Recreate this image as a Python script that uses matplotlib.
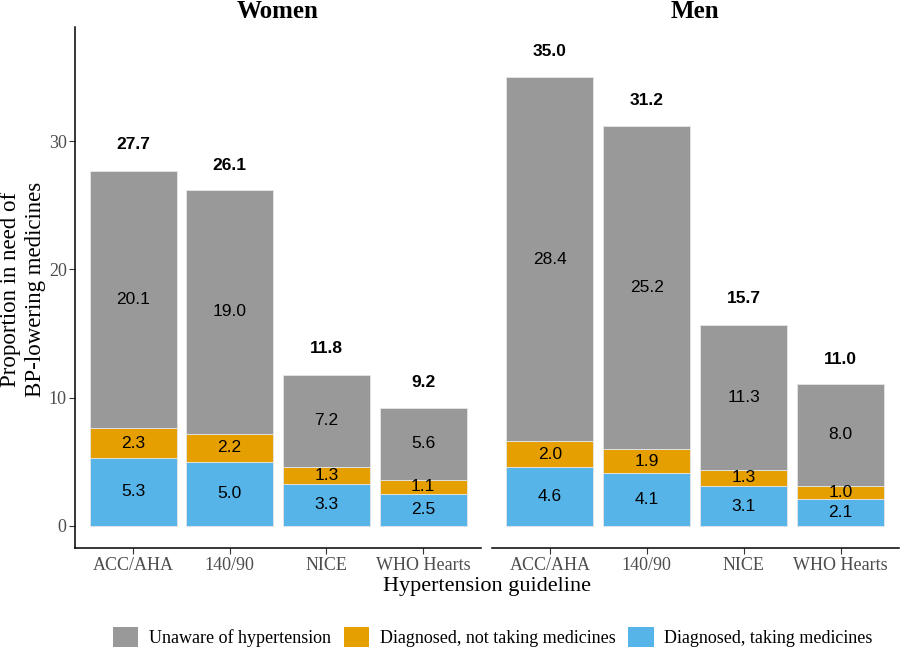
import matplotlib
matplotlib.use('Agg')
import matplotlib.pyplot as plt
from matplotlib.patches import Patch
import numpy as np

# ---- 数据 ----
guidelines = ['ACC/AHA', '140/90', 'NICE', 'WHO Hearts']
panels = ['Women', 'Men']

women_taking = [5.3, 5.0, 3.3, 2.5]
women_not_taking = [2.3, 2.2, 1.3, 1.1]
women_unaware = [20.1, 19.0, 7.2, 5.6]
women_total = [27.7, 26.1, 11.8, 9.2]

men_taking = [4.6, 4.1, 3.1, 2.1]
men_not_taking = [2.0, 1.9, 1.3, 1.0]
men_unaware = [28.4, 25.2, 11.3, 8.0]
men_total = [35.0, 31.2, 15.7, 11.0]

legend_labels = ['Unaware of hypertension',
                 'Diagnosed, not taking medicines',
                 'Diagnosed, taking medicines']
colors = {'unaware': '#999999', 'not': '#E69F00', 'taking': '#56B4E9'}

serif = 'Liberation Serif'
sans = 'Liberation Sans'

fig = plt.figure(figsize=(9, 6.5), dpi=100)
# 面板位置 (像素估计 -> 比例)
ax_w = fig.add_axes([75 / 900, 1 - 548.3 / 650, 406 / 900, 521 / 650])
ax_m = fig.add_axes([491.7 / 900, 1 - 548.3 / 650, 407 / 900, 521 / 650])

data = {
    'Women': (women_taking, women_not_taking, women_unaware, women_total),
    'Men': (men_taking, men_not_taking, men_unaware, men_total),
}

x = np.arange(len(guidelines))
for ax, name in zip([ax_w, ax_m], panels):
    taking, not_taking, unaware, total = [np.array(v) for v in data[name]]
    kw = dict(width=0.9, edgecolor='#E6E6E6', linewidth=0.6)
    ax.bar(x, taking, color=colors['taking'], **kw)
    ax.bar(x, not_taking, bottom=taking, color=colors['not'], **kw)
    ax.bar(x, unaware, bottom=taking + not_taking, color=colors['unaware'], **kw)

    # 每段中间的数值
    for xi in x:
        segs = [(0, taking[xi]), (taking[xi], not_taking[xi]),
                (taking[xi] + not_taking[xi], unaware[xi])]
        for base, h in segs:
            ax.text(xi, base + h / 2, f'{h:.1f}', ha='center', va='center',
                    fontsize=12.5, family=sans, color='black')
        ax.text(xi, total[xi] + 2, f'{total[xi]:.1f}', ha='center', va='center',
                fontsize=12.5, family=sans, fontweight='bold', color='black')

    ax.set_xlim(-0.6, 3.6)
    ax.set_ylim(-1.74, 38.87)
    ax.set_xticks(x)
    ax.set_xticklabels(guidelines, family=serif, fontsize=13, color='#4D4D4D')
    ax.set_title(name, family=serif, fontsize=18, fontweight='bold', pad=7)
    for s in ['top', 'right']:
        ax.spines[s].set_visible(False)
    ax.spines['bottom'].set_linewidth(1.1)
    ax.spines['left'].set_linewidth(1.1)
    ax.tick_params(axis='both', length=4, width=0.8, pad=2, color='#333333')

ax_w.set_yticks([0, 10, 20, 30])
ax_w.set_yticklabels(['0', '10', '20', '30'], family=serif, fontsize=13,
                     color='#4D4D4D')
ax_m.spines['left'].set_visible(False)
ax_m.set_yticks([])

fig.text(23 / 900, 1 - 289 / 650, 'Proportion in need of\nBP-lowering medicines',
         rotation=90, ha='center', va='center', family=serif, fontsize=16.5,
         linespacing=1.3)
fig.text(487 / 900, 1 - 587 / 650, 'Hypertension guideline', ha='center',
         va='center', family=serif, fontsize=16)

handles = [Patch(facecolor=colors['unaware']),
           Patch(facecolor=colors['not']),
           Patch(facecolor=colors['taking'])]
fig.legend(handles, legend_labels, loc='center', ncol=3,
           bbox_to_anchor=(493 / 900, 1 - 637 / 650), frameon=False,
           prop={'family': serif, 'size': 13}, handlelength=1.4,
           handleheight=1.4, handletextpad=0.6, columnspacing=0.7)

fig.savefig('out.png', dpi=100)
